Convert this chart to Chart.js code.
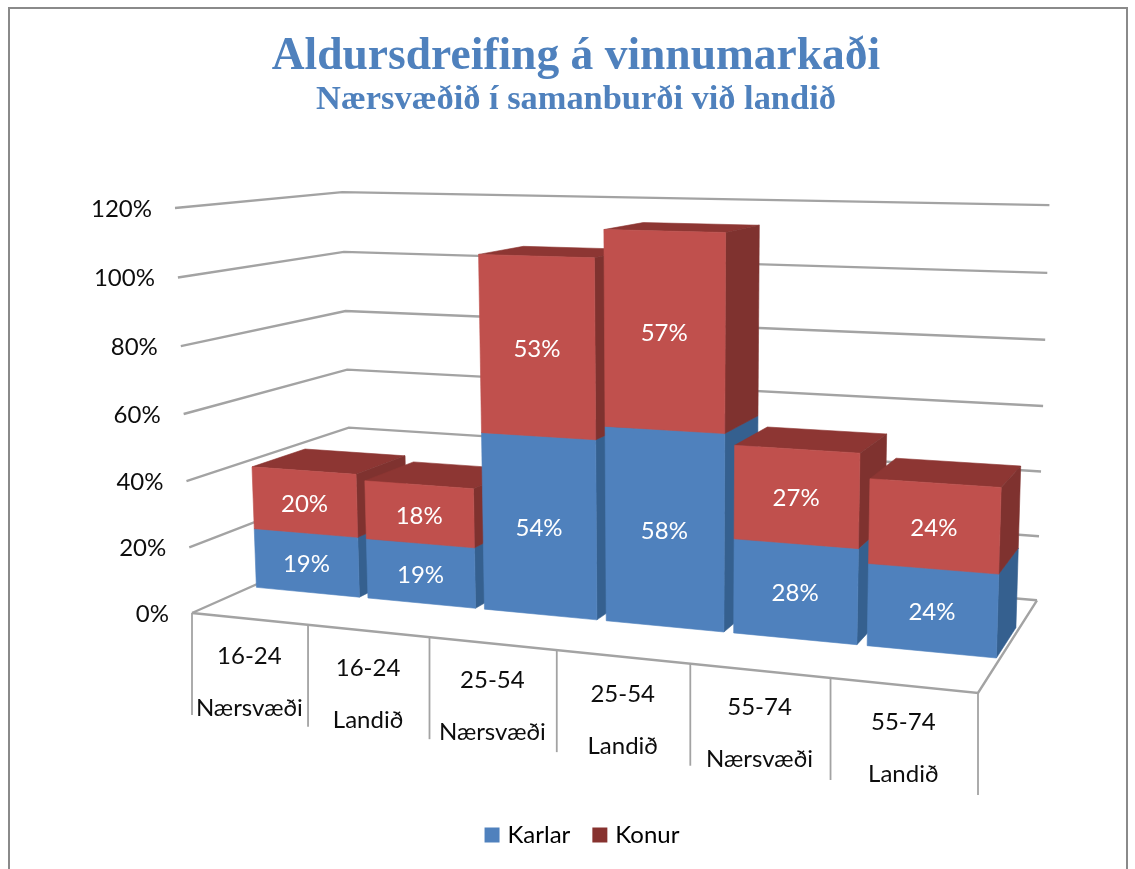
<!DOCTYPE html>
<html>
<head>
<meta charset="utf-8">
<style>html,body{margin:0;padding:0;background:#fff}#w{width:1135px;height:869px}</style>
<script src="https://cdn.jsdelivr.net/npm/chart.js@4"></script>
</head>
<body>
<div id="w"><canvas id="c" width="1135" height="869"></canvas></div>
<script>
const ageGroups = ['16-24','16-24','25-54','25-54','55-74','55-74'];
const regions = ['Nærsvæði','Landið','Nærsvæði','Landið','Nærsvæði','Landið'];
const karlar = [18.8,18.6,53.7,57.8,27.6,23.6];
const konur = [19.6,18,52.6,56.6,27,24];
const yTicks = [0,20,40,60,80,100,120];

const FRONT = ['#4F81BD','#C0504D'];
const SIDE = ['#35608F','#7F322F'];
const TOP = ['#3F6A9C','#8D3633'];
const SWATCH = ['#4F81BD','#87322F'];
const GRID = '#A3A3A3';
const TXT = '#0d0d0d';
const FONT = 'Lato, Carlito, "Open Sans", sans-serif';

// Perspective box: screen positions of the origin and the three axis ends, with homogeneous weights
const A=[192,613], B=[978,693], E=[175,208], D=[352,542];
const wB=0.866, wE=0.966, wD=1.159;
const D0=0.335, D1=0.665, BAR_SHIFT=0.002;
function proj(u,v,d){
  const w = 1 + u*(wB-1) + v*(wE-1) + d*(wD-1);
  const f = k => (A[k] + u*(wB*B[k]-A[k]) + v*(wE*E[k]-A[k]) + d*(wD*D[k]-A[k]))/w;
  return [f(0),f(1)];
}
function poly(ctx,pts,fill){
  ctx.beginPath();
  pts.forEach((p,i)=> i?ctx.lineTo(p[0],p[1]):ctx.moveTo(p[0],p[1]));
  ctx.closePath(); ctx.fillStyle=fill; ctx.fill();
  ctx.strokeStyle=fill; ctx.lineWidth=0.6; ctx.stroke();
}
function line(ctx,pts){
  ctx.beginPath();
  pts.forEach((p,i)=> i?ctx.lineTo(p[0],p[1]):ctx.moveTo(p[0],p[1]));
  ctx.stroke();
}

const scene = {
  id:'scene',
  afterLayout(chart){
    chart.legend.left += 8; chart.legend.right += 8;
  },
  beforeDatasetsDraw(chart){
    const ctx=chart.ctx, a=chart.chartArea, xs=chart.scales.x, ys=chart.scales.y;
    const U=px=>(px-a.left)/(a.right-a.left), V=py=>(a.bottom-py)/(a.bottom-a.top);
    ctx.save();
    // frame
    ctx.strokeStyle='#8a8a8a'; ctx.lineWidth=2;
    ctx.beginPath(); ctx.moveTo(9,869); ctx.lineTo(9,8); ctx.lineTo(1127,8); ctx.lineTo(1127,869); ctx.stroke();
    // walls gridlines
    ctx.strokeStyle=GRID; ctx.lineWidth=2.4; ctx.lineJoin='miter';
    ys.ticks.forEach(t=>{
      const v=V(ys.getPixelForValue(t.value));
      line(ctx,[proj(0,v,0),proj(0,v,1),proj(1,v,1)]);
    });
    // floor
    line(ctx,[proj(0,0,0),proj(1,0,0),proj(1,0,1)]);
    // category dividers
    const n=xs.ticks.length, cw=(a.right-a.left)/n;
    ctx.lineWidth=1.8;
    for(let i=0;i<=n;i++){
      const px = i<n ? xs.getPixelForTick(i)-cw/2 : xs.getPixelForTick(n-1)+cw/2;
      const p=proj(U(px),0,0);
      line(ctx,[p,[p[0],p[1]+102]]);
    }
    // tick labels
    ctx.fillStyle=TXT; ctx.font='24px '+FONT; ctx.textBaseline='middle';
    ctx.textAlign='right';
    ys.ticks.forEach(t=>{
      const p=proj(0,V(ys.getPixelForValue(t.value)),0);
      ctx.fillText(t.value+'%',p[0]-23,p[1]+1);
    });
    ctx.textAlign='center';
    xs.ticks.forEach((t,i)=>{
      const p=proj(U(xs.getPixelForTick(i)),0,0);
      const lab=chart.data.labels[i];
      ctx.fillText(lab[0],p[0],p[1]+37);
      ctx.fillText(lab[1],p[0],p[1]+89);
    });
    // bars
    const metas=chart.data.datasets.map((d,i)=>chart.getDatasetMeta(i));
    for(let i=0;i<chart.data.labels.length;i++){
      metas.forEach((m,s)=>{
        const b=m.data[i];
        const u0=U(b.x-b.width/2)+BAR_SHIFT, u1=U(b.x+b.width/2)+BAR_SHIFT, v0=V(b.base), v1=V(b.y);
        poly(ctx,[proj(u0,v1,D0),proj(u1,v1,D0),proj(u1,v1,D1),proj(u0,v1,D1)],TOP[s]);
        poly(ctx,[proj(u1,v0,D0),proj(u1,v0,D1),proj(u1,v1,D1),proj(u1,v1,D0)],SIDE[s]);
        poly(ctx,[proj(u0,v0,D0),proj(u1,v0,D0),proj(u1,v1,D0),proj(u0,v1,D0)],FRONT[s]);
      });
      metas.forEach((m,s)=>{
        const b=m.data[i];
        const c=proj(U(b.x)+BAR_SHIFT,(V(b.base)+V(b.y))/2,D0);
        ctx.fillStyle='#fff'; ctx.font='24px '+FONT;
        ctx.textAlign='center'; ctx.textBaseline='middle';
        ctx.fillText(Math.round(chart.data.datasets[s].data[i])+'%',c[0],c[1]+2);
      });
    }
    ctx.restore();
    return false;
  }
};

new Chart(document.getElementById('c'),{
  type:'bar',
  data:{
    labels:ageGroups.map((g,i)=>[g,regions[i]]),
    datasets:[
      {label:'Karlar',data:karlar,backgroundColor:FRONT[0]},
      {label:'Konur',data:konur,backgroundColor:FRONT[1]}
    ]
  },
  plugins:[scene],
  options:{
    responsive:false, animation:false,
    layout:{padding:{left:174,right:157,top:10,bottom:12}},
    datasets:{bar:{barPercentage:0.925,categoryPercentage:1}},
    plugins:{
      tooltip:{enabled:false},
      title:{display:true,text:'Aldursdreifing á vinnumarkaði',color:'#4F81BD',
        font:{family:'"Liberation Serif",serif',size:45.5,weight:'bold',lineHeight:1},padding:{top:24,bottom:0}},
      subtitle:{display:true,text:'Nærsvæðið í samanburði við landið',color:'#4F81BD',
        font:{family:'"Liberation Serif",serif',size:34.4,weight:'bold'},padding:{top:0,bottom:87.2}},
      legend:{position:'bottom',labels:{
        color:TXT,boxWidth:7,boxHeight:7,padding:26,font:{family:FONT,size:24},
        generateLabels(ch){
          return ch.data.datasets.map((d,i)=>({text:d.label,fillStyle:SWATCH[i],strokeStyle:SWATCH[i],lineWidth:8,datasetIndex:i}));
        }
      }}
    },
    scales:{
      x:{stacked:true,grid:{display:false},border:{display:false},ticks:{display:false},
        afterFit(s){s.height=168;}},
      y:{stacked:true,min:0,max:120,grid:{display:false},border:{display:false},
        ticks:{display:false,stepSize:20},
        afterBuildTicks(s){s.ticks=yTicks.map(v=>({value:v}));},
        afterFit(s){s.width=18;}}
    }
  }
});
</script>
</body>
</html>
